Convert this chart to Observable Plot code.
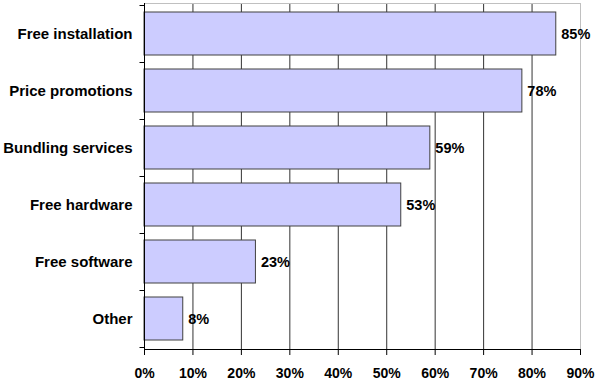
<!DOCTYPE html>
<html>
<head>
<meta charset="utf-8">
<script src="https://cdn.jsdelivr.net/npm/d3@7"></script>
<script src="https://cdn.jsdelivr.net/npm/@observablehq/plot@0.6"></script>
<style>
  html, body { margin: 0; padding: 0; background: #fff; }
</style>
</head>
<body>
<div id="chart"></div>
<script>
const categories = ["Free installation", "Price promotions", "Bundling services", "Free hardware", "Free software", "Other"];
const values = [0.85, 0.78, 0.59, 0.53, 0.23, 0.08];
const xTicks = [0, 0.1, 0.2, 0.3, 0.4, 0.5, 0.6, 0.7, 0.8, 0.9];
const gridTicks = [0.1, 0.2, 0.3, 0.4, 0.5, 0.6, 0.7, 0.8];

const data = categories.map((c, i) => ({category: c, value: values[i]}));
const pct = d3.format(".0%");
const font = "'Liberation Sans', Arial, sans-serif";

const chart = Plot.plot({
  width: 599,
  height: 382,
  marginLeft: 144,
  marginRight: 19,
  marginTop: 3,
  marginBottom: 33,
  style: {fontFamily: font, fontWeight: "bold", color: "#000", background: "#fff"},
  x: {domain: [0, 0.9]},
  y: {domain: categories, paddingInner: 0.25, paddingOuter: 0.125},
  marks: [
    Plot.gridX(gridTicks, {stroke: "#333", strokeOpacity: 1}),
    Plot.frame({anchor: "top", stroke: "#c0c0c0"}),
    Plot.frame({anchor: "right", stroke: "#c0c0c0"}),
    Plot.barX(data, {y: "category", x: "value", fill: "#ccccff", stroke: "#404040", strokeWidth: 1}),
    Plot.text(data, {y: "category", x: "value", text: d => pct(d.value), textAnchor: "start", dx: 5, fontSize: 14.5, fontWeight: "bold", fill: "#000"}),
    Plot.axisY({tickSize: 0, tickPadding: 12, fontSize: 15, fontWeight: "bold", label: null}),
    Plot.axisX(xTicks, {tickSize: 6, tickPadding: 13, tickFormat: pct, fontSize: 14, fontWeight: "bold", label: null}),
    Plot.frame({anchor: "left", stroke: "#000"}),
    Plot.frame({anchor: "bottom", stroke: "#000"})
  ]
});

// tick marks at the band boundaries of the category axis, from the y scale
const ys = chart.scale("y");
const x0 = chart.scale("x").apply(0);
const svg = d3.select(chart.tagName.toLowerCase() === "svg" ? chart : chart.querySelector("svg"));
const boundaries = categories.map(c => ys.apply(c) - (ys.step - ys.bandwidth) / 2);
boundaries.push(ys.apply(categories[categories.length - 1]) + ys.bandwidth + (ys.step - ys.bandwidth) / 2);
svg.append("g")
  .attr("stroke", "#000")
  .selectAll("line")
  .data(boundaries)
  .join("line")
  .attr("x1", x0 - 5 + 0.5)
  .attr("x2", x0 + 0.5)
  .attr("y1", d => Math.round(d) + 0.5)
  .attr("y2", d => Math.round(d) + 0.5);

document.getElementById("chart").appendChild(chart);
</script>
</body>
</html>
